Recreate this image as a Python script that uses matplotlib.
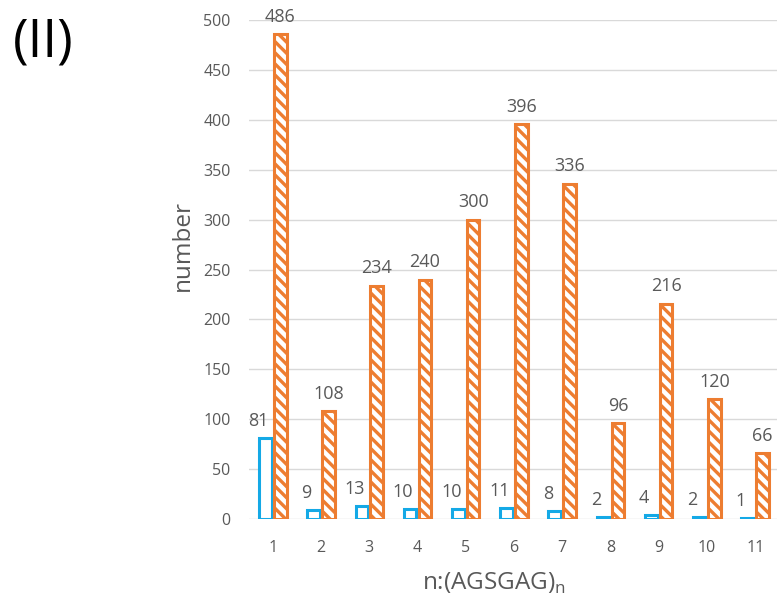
import matplotlib
matplotlib.use('Agg')
import matplotlib.pyplot as plt
import numpy as np

plt.rcParams['font.family'] = ['Open Sans', 'DejaVu Sans']
plt.rcParams['hatch.linewidth'] = 2.4

# data
categories = ['1', '2', '3', '4', '5', '6', '7', '8', '9', '10', '11']
blue_vals = [81, 9, 13, 10, 10, 11, 8, 2, 4, 2, 1]
orange_vals = [486, 108, 234, 240, 300, 396, 336, 96, 216, 120, 66]

blue = '#14a9e6'
orange = '#ed7d31'
grey_text = '#595959'

fig = plt.figure(figsize=(7.77, 5.98), dpi=100)
ax = fig.add_axes([0.320, 0.132, 0.683, 0.8344])

x = np.arange(1, len(categories) + 1)
w = 0.26
off = 0.155

ax.bar(x - off, blue_vals, width=w, facecolor='white', edgecolor=blue, linewidth=2.2, zorder=3)
ax.bar(x + off, orange_vals, width=w, facecolor='white', edgecolor=orange, hatch='\\\\\\', linewidth=2.2, zorder=3)

for xi, v in zip(x - off, blue_vals):
    ax.annotate(str(v), (xi, v), xytext=(-5, 6), textcoords='offset points',
                ha='center', va='bottom', fontsize=13, color=grey_text, annotation_clip=False)
for xi, v in zip(x + off, orange_vals):
    ax.annotate(str(v), (xi, v), xytext=(0, 6), textcoords='offset points',
                ha='center', va='bottom', fontsize=13, color=grey_text, annotation_clip=False)

ax.set_xlim(0.5, 11.5)
ax.set_ylim(0, 500)
ax.set_yticks(np.arange(0, 501, 50))
ax.set_xticks(x)
ax.set_xticklabels(categories)
ax.tick_params(axis='both', length=0, labelsize=11.5, colors=grey_text)
ax.tick_params(axis='y', pad=13)
ax.tick_params(axis='x', pad=15)
ax.grid(axis='y', color='#d9d9d9', linewidth=1, zorder=0)
for s in ax.spines.values():
    s.set_visible(False)

fig.text(0.636, 0.025, 'n:(AGSGAG)$_\\mathregular{n}$', ha='center', va='center', fontsize=17.5, color=grey_text)
fig.text(0.2355, 0.59, 'number', rotation=90, ha='center', va='center', fontsize=17.5, color=grey_text)
fig.text(0.016, 0.928, '(II)', ha='left', va='center', fontsize=38, color='black')

plt.savefig('out.png', dpi=100)
